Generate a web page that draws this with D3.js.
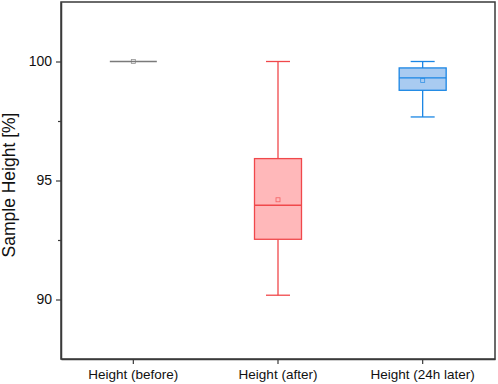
<!DOCTYPE html>
<html lang="en">
<head>
  <meta charset="UTF-8">
  <title>Sample Height Box Plot</title>
  <script src="https://d3js.org/d3.v7.min.js"></script>
  <style>
    body { margin: 0; background: #fff; font-family: "Liberation Sans", Arial, sans-serif; }
    .tick text { font-family: "Liberation Sans", Arial, sans-serif; fill: #111; }
    .axis-label { font-size: 17.5px; fill: #111; }
  </style>
</head>
<body>
<svg width="498" height="384"></svg>

<script>
// data
const categories = ["Height (before)", "Height (after)", "Height (24h later)"];
const whiskerLow  = [100, 90.18, 97.67];
const q1          = [100, 92.53, 98.79];
const medians     = [100, 93.96, 99.31];
const q3          = [100, 95.92, 99.73];
const whiskerHigh = [100, 100, 100];
const means       = [100, 94.19, 99.2];
const strokes     = ["#7a7a7a", "#f0484b", "#1a86e4"];
const fills       = ["#cccccc", "#ffb8ba", "#a9cbf1"];
const majorTicks  = [90, 95, 100];
const minorTicks  = [92.5, 97.5];

const svg = d3.select("svg"),
      margin = { top: 2, right: 3, bottom: 25, left: 61 },
      width = +svg.attr("width") - margin.left - margin.right,
      height = +svg.attr("height") - margin.top - margin.bottom,
      g = svg.append("g").attr("transform", `translate(${margin.left},${margin.top})`);

const x = d3.scaleBand().domain(categories).range([0, width]).padding(0);
const y = d3.scaleLinear().domain([87.5, 102.5]).range([height, 0]);

const boxW = 47, capW = 24;

// Frame
g.append("rect")
  .attr("width", width).attr("height", height)
  .attr("fill", "none").attr("stroke", "#3a3a3a").attr("stroke-width", 1.5);

// Axes
const yAxis = g.append("g")
  .call(d3.axisLeft(y).tickValues(majorTicks).tickSize(5).tickSizeOuter(0).tickPadding(4));
yAxis.selectAll("text").style("font-size", "14px");
yAxis.select(".domain").attr("stroke", "#3a3a3a").attr("stroke-width", 1.5);
yAxis.selectAll(".tick line").attr("stroke", "#3a3a3a").attr("stroke-width", 1.2);

g.append("g")
  .call(d3.axisLeft(y).tickValues(minorTicks).tickSize(3).tickSizeOuter(0).tickFormat(""))
  .call(s => s.select(".domain").remove())
  .selectAll(".tick line").attr("stroke", "#3a3a3a").attr("stroke-width", 1.2);

const xAxis = g.append("g")
  .attr("transform", `translate(0,${height})`)
  .call(d3.axisBottom(x).tickSize(5).tickSizeOuter(0).tickPadding(5));
xAxis.selectAll("text").style("font-size", "13.5px");
xAxis.select(".domain").attr("stroke", "#3a3a3a").attr("stroke-width", 1.5);
xAxis.selectAll(".tick line").attr("stroke", "#3a3a3a").attr("stroke-width", 1.2);

svg.append("text")
  .attr("class", "axis-label")
  .attr("transform", "rotate(-90)")
  .attr("x", -185)
  .attr("y", 15)
  .attr("text-anchor", "middle")
  .text("Sample Height [%]");

// Boxes
const boxes = g.selectAll(".box")
  .data(categories)
  .enter().append("g")
  .attr("class", "box")
  .attr("transform", d => `translate(${x(d) + x.bandwidth() / 2},0)`);

boxes.each(function(d, i) {
  const b = d3.select(this);
  const col = strokes[i];
  // whiskers
  b.append("line").attr("x1", 0).attr("x2", 0)
    .attr("y1", y(whiskerHigh[i])).attr("y2", y(q3[i]))
    .attr("stroke", col).attr("stroke-width", 1.3);
  b.append("line").attr("x1", 0).attr("x2", 0)
    .attr("y1", y(q1[i])).attr("y2", y(whiskerLow[i]))
    .attr("stroke", col).attr("stroke-width", 1.3);
  if (whiskerHigh[i] !== whiskerLow[i]) {
    [whiskerHigh[i], whiskerLow[i]].forEach(v => {
      b.append("line").attr("x1", -capW / 2).attr("x2", capW / 2)
        .attr("y1", y(v)).attr("y2", y(v))
        .attr("stroke", col).attr("stroke-width", 1.3);
    });
  }
  // box
  b.append("rect")
    .attr("x", -boxW / 2).attr("width", boxW)
    .attr("y", y(q3[i])).attr("height", y(q1[i]) - y(q3[i]))
    .attr("fill", fills[i]).attr("stroke", col).attr("stroke-width", 1.3);
  // median
  b.append("line").attr("x1", -boxW / 2).attr("x2", boxW / 2)
    .attr("y1", y(medians[i])).attr("y2", y(medians[i]))
    .attr("stroke", col).attr("stroke-width", 1.3);
  // mean marker
  b.append("rect")
    .attr("x", -2).attr("y", y(means[i]) - 2)
    .attr("width", 4).attr("height", 4)
    .attr("fill", "none").attr("stroke", col).attr("stroke-width", 0.8).attr("opacity", 0.8);
});
</script>
</body>
</html>
